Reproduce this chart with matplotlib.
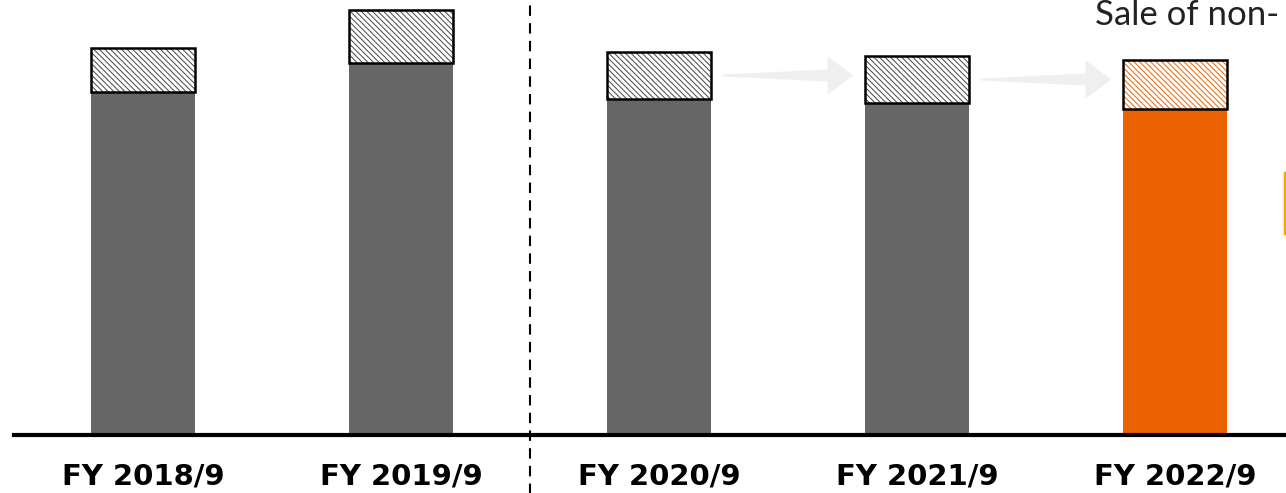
import numpy as np
import matplotlib.pyplot as plt
from matplotlib.patches import Polygon
from matplotlib.lines import Line2D

plt.rcParams['hatch.linewidth'] = 0.7

# data (heights, arbitrary units)
years = ['FY 2018/9', 'FY 2019/9', 'FY 2020/9', 'FY 2021/9', 'FY 2022/9']
core = [343, 372, 336, 332, 326]
extra = [44, 53, 47, 47, 49]
colors = ['#666666', '#666666', '#666666', '#666666', '#ec6200']
hatch_colors = ['#444444', '#444444', '#444444', '#444444', '#ec6200']

fig = plt.figure(figsize=(12.86, 4.93), dpi=100)
ax = fig.add_axes([14 / 1286, 58 / 493, 1 - 14 / 1286, 435 / 493])

x = np.arange(len(years))
w = 0.403
ax.bar(x, core, width=w, color=colors, linewidth=0, zorder=2)
for i in range(len(years)):
    ax.bar(x[i], extra[i], bottom=core[i], width=w, color='white',
           edgecolor=hatch_colors[i], hatch='\\' * 6, linewidth=0, zorder=2)
ax.bar(x, extra, bottom=core, width=w, fill=False, edgecolor='black',
       linewidth=1.8, zorder=3)

# arrows between the last three years
gap = 0.045
for i in [2, 3]:
    x0 = x[i] + w / 2 + gap
    x1 = x[i + 1] - w / 2 - gap
    y0 = core[i] + extra[i] / 2
    hl = 0.1
    pts = [(x0, y0 - 1), (x1 - hl, y0 - 6), (x1 - hl, y0 - 19), (x1, y0),
           (x1 - hl, y0 + 19), (x1 - hl, y0 + 6), (x0, y0 + 1)]
    ax.add_patch(Polygon(pts, closed=True, facecolor='#efefef', edgecolor='none', zorder=1))

ax.axvline(1.5, ymin=-0.2, ymax=1.1, color='black', linestyle=(0, (5, 3.5)),
           linewidth=1.5, clip_on=False, zorder=4)

ax.set_xlim(-0.5, 4.43)
ax.set_ylim(0, 435)
ax.set_xticks(x)
ax.set_xticklabels(years, fontsize=21, fontweight='bold', family='DejaVu Sans')
ax.tick_params(axis='x', length=0, pad=20)
ax.set_yticks([])
for s in ['top', 'right', 'left']:
    ax.spines[s].set_visible(False)
ax.spines['bottom'].set_linewidth(3)

fig.text(1095 / 1286, (493 - 25) / 493, 'Sale of non-', fontsize=25,
         family='Lato', color='#222222', va='baseline', ha='left')
fig.add_artist(Line2D([1285 / 1286, 1285 / 1286], [1 - 173 / 493, 1 - 233 / 493],
                      color='#f5a800', linewidth=2.5))

fig.savefig('out.png', dpi=100)
